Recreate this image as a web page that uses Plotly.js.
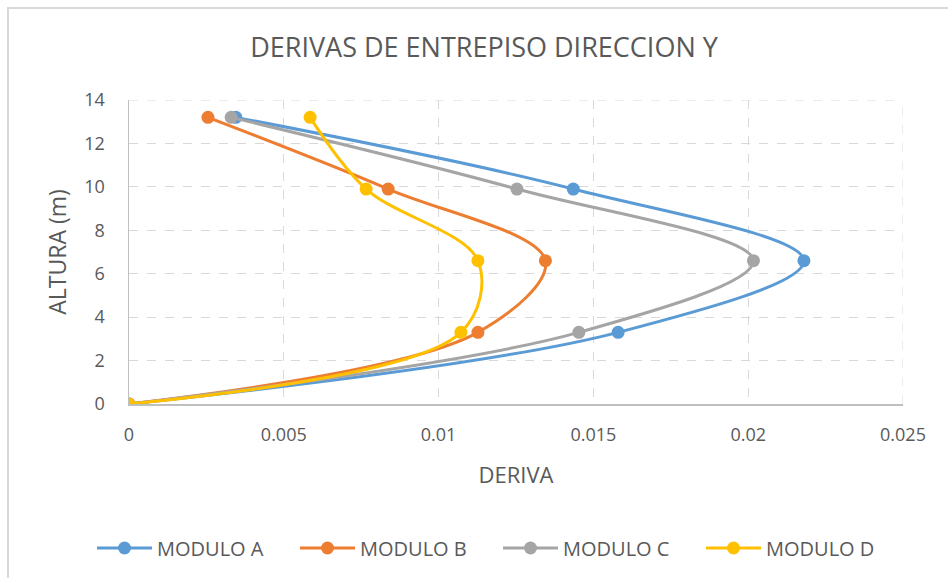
<!DOCTYPE html>
<html>
<head>
<meta charset="utf-8">
<script src="https://cdn.plot.ly/plotly-3.0.1.min.js"></script>
<style>
html,body{margin:0;padding:0;background:#fff;overflow:hidden;}
#frame{position:absolute;left:7px;top:7px;width:960px;height:590px;border:2px solid #d9d9d9;box-sizing:border-box;}
#chart{position:absolute;left:0;top:0;width:948px;height:578px;}
</style>
</head>
<body>
<div id="frame"></div>
<div id="chart"></div>
<script>
const altura = [0, 3.3, 6.6, 9.9, 13.2];
const moduloA = [0, 0.0158, 0.0218, 0.01435, 0.00345];
const moduloB = [0, 0.01127, 0.01345, 0.00837, 0.00255];
const moduloC = [0, 0.01453, 0.02017, 0.01253, 0.0033];
const moduloD = [0, 0.01072, 0.01127, 0.00766, 0.00585];
const seriesNames = ["MODULO A", "MODULO B", "MODULO C", "MODULO D"];
const seriesColors = ["#5b9bd5", "#ed7d31", "#a5a5a5", "#ffc000"];
const xTicks = [0, 0.005, 0.01, 0.015, 0.02, 0.025];
const xTickText = ["0", "0.005", "0.01", "0.015", "0.02", "0.025"];
const yTicks = [0, 2, 4, 6, 8, 10, 12, 14];

const font = "Open Sans, Noto Sans, sans-serif";
const all = [moduloA, moduloB, moduloC, moduloD];
const traces = all.map((xs, i) => ({
  type: "scatter",
  mode: "lines+markers",
  name: seriesNames[i],
  x: xs,
  y: altura,
  line: {color: seriesColors[i], width: 3, shape: "spline", smoothing: 1},
  marker: {color: seriesColors[i], size: 13}
}));

const layout = {
  width: 948, height: 578,
  margin: {l: 129, r: 45, t: 100, b: 173},
  paper_bgcolor: "rgba(0,0,0,0)",
  plot_bgcolor: "#fff",
  title: {text: "DERIVAS DE ENTREPISO DIRECCION Y", x: 484/948, xanchor: "center", y: 1 - 48/578, yanchor: "middle",
          font: {family: font, size: 27, color: "#595959"}},
  xaxis: {
    range: [0, 0.025], tickvals: xTicks, ticktext: xTickText,
    showgrid: true, gridcolor: "#d9d9d9", griddash: "dash", gridwidth: 1,
    zeroline: false, showline: true, linecolor: "#bfbfbf", linewidth: 1.5,
    ticks: "", ticklabelstandoff: 14,
    tickfont: {family: font, size: 18, color: "#595959"},
    title: {text: "DERIVA", font: {family: font, size: 22, color: "#595959"}, standoff: 22}
  },
  yaxis: {
    range: [0, 14], tickvals: yTicks,
    showgrid: true, gridcolor: "#d9d9d9", griddash: "dash", gridwidth: 1,
    zeroline: false, showline: true, linecolor: "#bfbfbf", linewidth: 1.5,
    ticks: "", ticklabelstandoff: 19,
    tickfont: {family: font, size: 18, color: "#595959"},
    title: {text: "ALTURA (m)", font: {family: font, size: 23, color: "#595959"}, standoff: 11}
  },
  shapes: [
    {type: "line", xref: "x", yref: "y", x0: 0.025, x1: 0.025, y0: 0, y1: 14, line: {color: "#d9d9d9", width: 1, dash: "dash"}, layer: "below"},
    {type: "line", xref: "x", yref: "y", x0: 0, x1: 0.025, y0: 14, y1: 14, line: {color: "#d9d9d9", width: 1, dash: "dash"}, layer: "below"}
  ],
  showlegend: true,
  legend: {orientation: "h", xref: "paper", x: (92 - 129) / 774, xanchor: "left",
           yref: "paper", y: (405 - 548) / 305, yanchor: "middle",
           font: {family: font, size: 20, color: "#595959"}, itemwidth: 55, entrywidth: 133, entrywidthmode: "pixels", tracegroupgap: 0}
};

Plotly.newPlot("chart", traces, layout, {displayModeBar: false, staticPlot: true});
</script>
</body>
</html>
